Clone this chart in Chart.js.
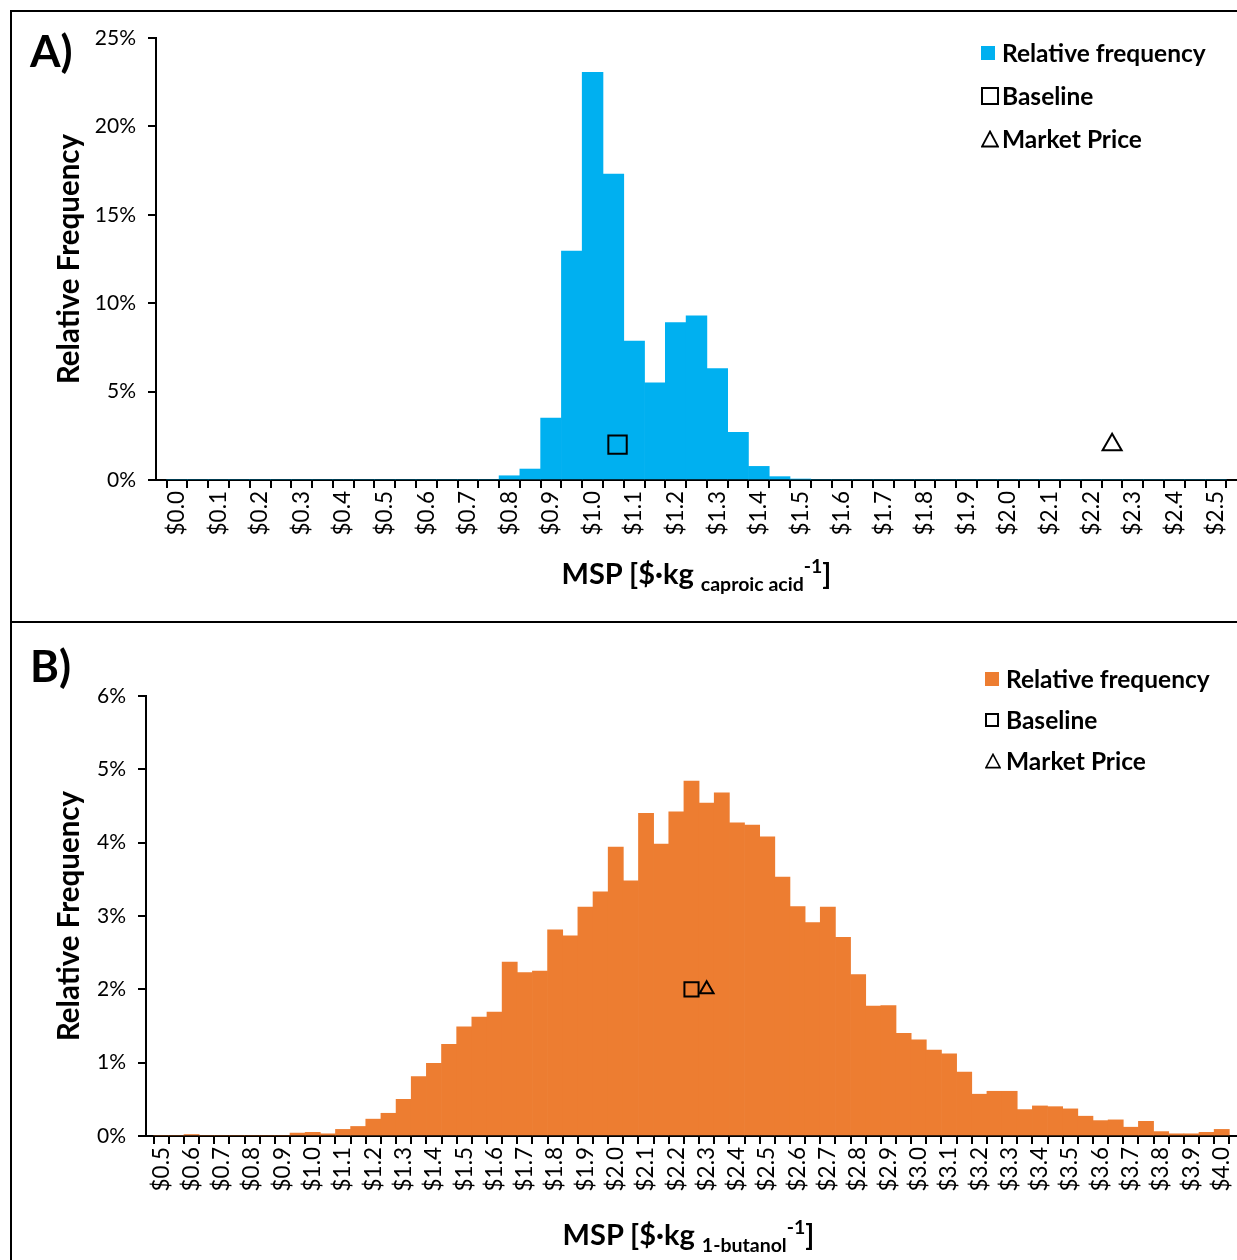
<!DOCTYPE html>
<html>
<head>
<meta charset="utf-8">
<title>MSP histograms</title>
<script src="https://cdn.jsdelivr.net/npm/chart.js@4.4.0/dist/chart.umd.min.js"></script>
<style>
  html, body { margin: 0; padding: 0; background: #fff; overflow: hidden; }
  body { width: 1237px; height: 1260px; position: relative; font-family: Lato, Carlito, Calibri, sans-serif; color: #000; }
  .panel { position: absolute; left: 10px; width: 1300px; border: 2px solid #000; box-sizing: border-box; }
  #panelA { top: 10px; height: 613px; }
  #panelB { top: 621px; height: 700px; }
  canvas { position: absolute; left: 0; }
  #chartA { top: 0; }
  #chartB { top: 622px; }
  .tag { position: absolute; left: 30px; font-weight: bold; font-size: 44px; line-height: 1; }
  .legend { position: absolute; font-weight: bold; font-size: 24.5px; }
  .legend .row { display: flex; align-items: center; }
  .legend .mk { width: 21px; display: flex; align-items: center; }
  #legendA .row { height: 43px; }
  #legendB .row { height: 41px; }
  .xtitle { position: absolute; text-align: center; font-weight: bold; font-size: 29px; line-height: 1; white-space: nowrap; }
  .xtitle .sub { font-size: 19.5px; position: relative; top: 7px; }
  .xtitle .sup { font-size: 19.5px; position: relative; top: -11px; }
</style>
</head>
<body>
<div class="panel" id="panelA"></div>
<div class="panel" id="panelB"></div>

<canvas id="chartA" width="1237" height="620" style="width:1237px;height:620px"></canvas>
<canvas id="chartB" width="1237" height="638" style="width:1237px;height:638px"></canvas>

<div class="tag" style="top:28px">A)</div>
<div class="tag" style="top:643px">B)</div>

<div class="legend" id="legendA" style="left:981px; top:31px"></div>
<div class="legend" id="legendB" style="left:985px; top:658px"></div>

<div class="xtitle" style="left:156px; width:1081px; top:558px">MSP [$·kg <span class="sub">caproic acid</span><span class="sup">-1</span>]</div>
<div class="xtitle" style="left:143px; width:1091px; top:1219px">MSP [$·kg <span class="sub">1-butanol</span><span class="sup">-1</span>]</div>

<script>
// A) caproic acid, bins of $0.05
const binsA = [0.00, 0.05, 0.10, 0.15, 0.20, 0.25, 0.30, 0.35, 0.40, 0.45,
               0.50, 0.55, 0.60, 0.65, 0.70, 0.75, 0.80, 0.85, 0.90, 0.95,
               1.00, 1.05, 1.10, 1.15, 1.20, 1.25, 1.30, 1.35, 1.40, 1.45,
               1.50, 1.55, 1.60, 1.65, 1.70, 1.75, 1.80, 1.85, 1.90, 1.95,
               2.00, 2.05, 2.10, 2.15, 2.20, 2.25, 2.30, 2.35, 2.40, 2.45, 2.50];
const freqA = [0, 0, 0, 0, 0, 0, 0, 0, 0, 0,
               0, 0, 0, 0, 0, 0, 0.24, 0.62, 3.5, 12.95,
               23.06, 17.3, 7.86, 5.5, 8.9, 9.28, 6.3, 2.7, 0.77, 0.19,
               0.05, 0, 0, 0, 0, 0, 0, 0, 0, 0,
               0, 0, 0, 0, 0, 0, 0, 0, 0, 0, 0];
const baselineA = [{ x: 1.06, y: 2 }];
const marketA = [{ x: 2.25, y: 2 }];

// B) 1-butanol, bins of $0.05
const binsB = [0.50, 0.55, 0.60, 0.65, 0.70, 0.75, 0.80, 0.85, 0.90, 0.95,
               1.00, 1.05, 1.10, 1.15, 1.20, 1.25, 1.30, 1.35, 1.40, 1.45,
               1.50, 1.55, 1.60, 1.65, 1.70, 1.75, 1.80, 1.85, 1.90, 1.95,
               2.00, 2.05, 2.10, 2.15, 2.20, 2.25, 2.30, 2.35, 2.40, 2.45,
               2.50, 2.55, 2.60, 2.65, 2.70, 2.75, 2.80, 2.85, 2.90, 2.95,
               3.00, 3.05, 3.10, 3.15, 3.20, 3.25, 3.30, 3.35, 3.40, 3.45,
               3.50, 3.55, 3.60, 3.65, 3.70, 3.75, 3.80, 3.85, 3.90, 3.95, 4.00];
const freqB = [0, 0, 0.02, 0, 0, 0, 0, 0, 0, 0.04,
               0.05, 0.03, 0.09, 0.13, 0.23, 0.31, 0.50, 0.81, 0.99, 1.25,
               1.49, 1.62, 1.69, 2.37, 2.23, 2.25, 2.81, 2.73, 3.12, 3.33,
               3.94, 3.48, 4.40, 3.98, 4.42, 4.84, 4.54, 4.68, 4.27, 4.24,
               4.08, 3.53, 3.13, 2.91, 3.12, 2.71, 2.20, 1.77, 1.78, 1.40,
               1.31, 1.17, 1.12, 0.87, 0.57, 0.61, 0.61, 0.36, 0.41, 0.40,
               0.37, 0.27, 0.21, 0.22, 0.12, 0.20, 0.06, 0.03, 0.03, 0.05, 0.09];
const baselineB = [{ x: 2.25, y: 2 }];
const marketB = [{ x: 2.30, y: 2 }];

const legendLabels = ["Relative frequency", "Baseline", "Market Price"];

Chart.defaults.font.family = "Lato, Carlito, sans-serif";
Chart.defaults.color = "#000";

function makeHist(id, o) {
    const step = o.bins[1] - o.bins[0];
    const tickFont = { family: "Lato", size: 21 };
    const bars = o.bins.map((b, i) => ({ x: b, y: o.freq[i] }));
    return new Chart(document.getElementById(id), {
        type: 'bar',
        data: {
            datasets: [
                { type: 'scatter', label: legendLabels[1], data: o.baseline,
                  pointStyle: 'rect', pointRadius: o.rectR, borderColor: '#000', borderWidth: 2,
                  backgroundColor: 'rgba(0,0,0,0)', order: 1 },
                { type: 'scatter', label: legendLabels[2], data: o.market,
                  pointStyle: 'triangle', pointRadius: o.triR, borderColor: '#000', borderWidth: 2,
                  backgroundColor: 'rgba(0,0,0,0)', order: 1 },
                { type: 'bar', label: legendLabels[0], data: bars, backgroundColor: o.color,
                  barPercentage: 1, categoryPercentage: 1, grouped: false, order: 2 }
            ]
        },
        options: {
            responsive: false,
            animation: false,
            devicePixelRatio: 1,
            layout: { autoPadding: false, padding: { top: o.top, right: 0, left: 0, bottom: 0 } },
            datasets: { bar: { barPercentage: 1, categoryPercentage: 1 } },
            plugins: { legend: { display: false }, tooltip: { enabled: false } },
            scales: {
                x: {
                    type: 'linear',
                    min: o.bins[0] - step / 2,
                    max: o.bins[o.bins.length - 1] + step / 2,
                    afterBuildTicks: s => { s.ticks = o.bins.map(v => ({ value: v })); },
                    grid: { drawOnChartArea: false, drawTicks: true, tickLength: 8, color: '#000', lineWidth: 2 },
                    border: { color: '#000', width: 2 },
                    ticks: {
                        autoSkip: false, minRotation: 90, maxRotation: 90, padding: 3,
                        font: { family: "Lato", size: 22.5 },
                        callback: (v, i) => i % 2 === 0 ? '$' + o.bins[i].toFixed(1) : ''
                    },
                    afterFit: s => { s.height = o.xH; s.paddingLeft = 0; s.paddingRight = 0; }
                },
                y: {
                    min: 0, max: o.yMax,
                    grid: { drawOnChartArea: false, tickLength: 8, color: '#000', lineWidth: 2 },
                    border: { color: '#000', width: 2 },
                    ticks: { stepSize: o.yStep, padding: 12, font: tickFont, callback: v => v + '%' },
                    title: { display: true, text: 'Relative Frequency', color: '#000',
                             font: { family: 'Lato', size: 29.5, weight: 'bold' }, padding: { top: 52, bottom: 0 } },
                    afterFit: s => { s.width = o.left; }
                }
            }
        }
    });
}

function buildLegend(id, color, sq, tri) {
    const el = document.getElementById(id);
    const marks = [
        `<span style="display:inline-block;width:14px;height:14px;background:${color}"></span>`,
        `<span style="display:inline-block;width:${sq}px;height:${sq}px;border:2px solid #000;box-sizing:border-box"></span>`,
        `<svg width="${tri}" height="${tri}" viewBox="0 0 18 18"><polygon points="9,1.5 17,16.5 1,16.5" fill="none" stroke="#000" stroke-width="1.8"/></svg>`
    ];
    el.innerHTML = legendLabels.map((t, i) => `<div class="row"><span class="mk">${marks[i]}</span><span>${t}</span></div>`).join("");
}

makeHist("chartA", { bins: binsA, freq: freqA, baseline: baselineA, market: marketA, color: '#00B0F0',
    yMax: 25, yStep: 5, top: 38, left: 156, xH: 140, rectR: 13, triR: 11 });
makeHist("chartB", { bins: binsB, freq: freqB, baseline: baselineB, market: marketB, color: '#ED7D31',
    yMax: 6, yStep: 1, top: 74, left: 146, xH: 124, rectR: 10, triR: 8 });

buildLegend("legendA", '#00B0F0', 18, 18);
buildLegend("legendB", '#ED7D31', 14, 16);
</script>
</body>
</html>
